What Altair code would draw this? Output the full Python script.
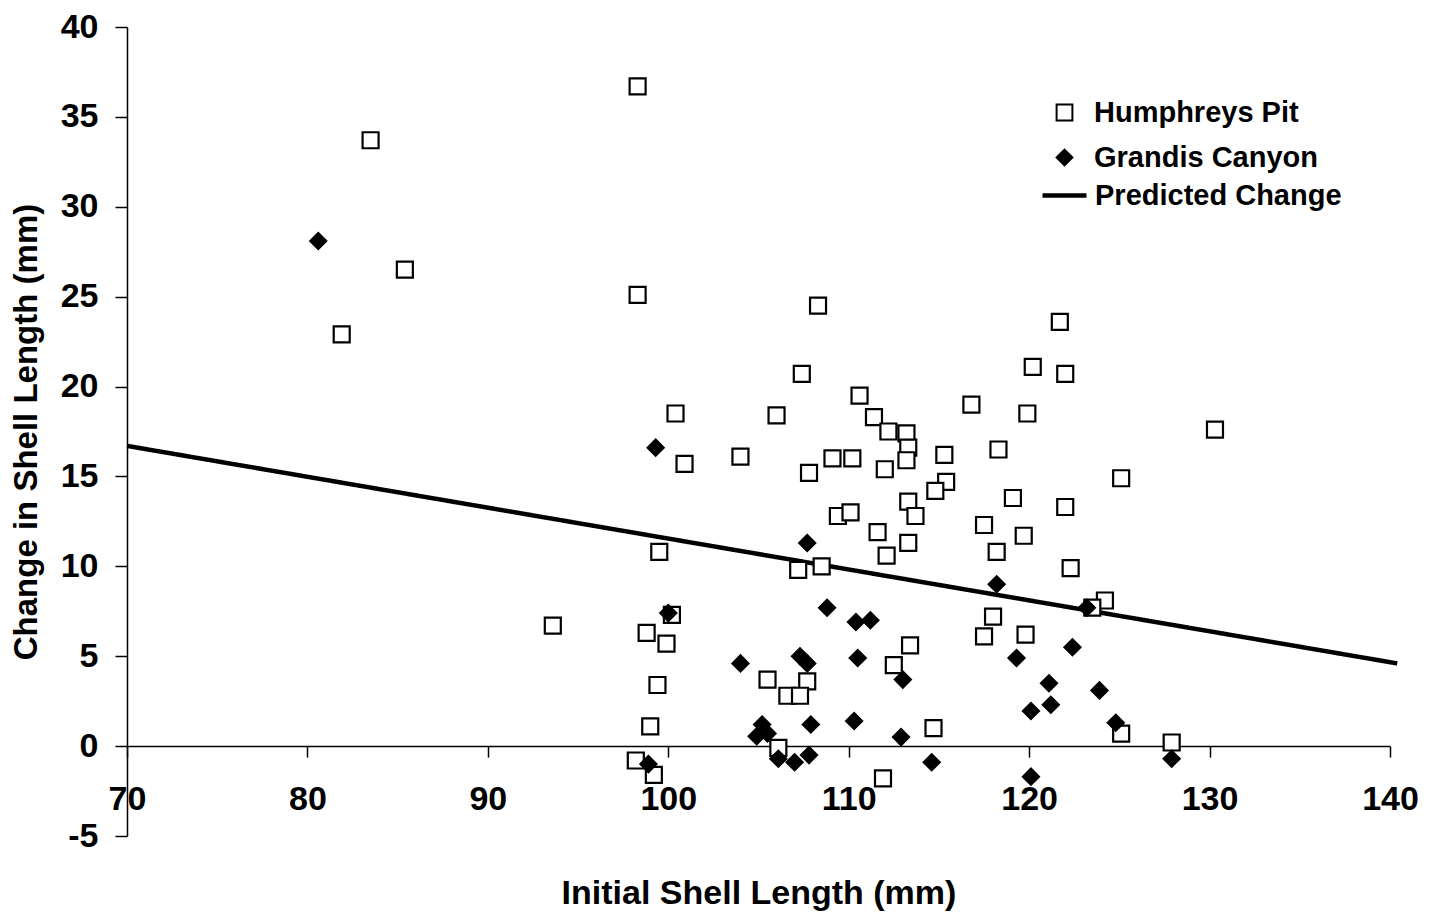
import altair as alt
import pandas as pd

# Humphreys Pit (open squares)
hp_x = [98.3, 83.5, 85.4, 81.9, 98.3, 108.3, 121.7, 120.2, 122.0, 107.4, 110.6, 116.8,
        100.4, 106.0, 111.4, 119.9, 112.2, 113.2, 113.3, 130.3, 118.3, 115.3, 104.0, 109.1,
        110.2, 113.2, 100.9, 107.8, 112.0, 115.4, 114.8, 125.1, 119.1, 113.3, 122.0, 113.7,
        109.4, 110.1, 117.5, 111.6, 113.3, 119.7, 99.5, 112.1, 118.2, 107.2, 108.5, 122.3,
        124.2, 123.5, 118.0, 100.2, 93.6, 98.8, 117.5, 119.8, 99.9, 113.4, 112.5, 105.5,
        107.7, 106.6, 107.3, 99.4, 99.0, 114.7, 125.1, 127.9, 106.1, 98.2, 99.2, 111.9]
hp_y = [36.7, 33.7, 26.5, 22.9, 25.1, 24.5, 23.6, 21.1, 20.7, 20.7, 19.5, 19.0,
        18.5, 18.4, 18.3, 18.5, 17.5, 17.4, 16.6, 17.6, 16.5, 16.2, 16.1, 16.0,
        16.0, 15.9, 15.7, 15.2, 15.4, 14.7, 14.2, 14.9, 13.8, 13.6, 13.3, 12.8,
        12.8, 13.0, 12.3, 11.9, 11.3, 11.7, 10.8, 10.6, 10.8, 9.8, 10.0, 9.9,
        8.1, 7.7, 7.2, 7.3, 6.7, 6.3, 6.1, 6.2, 5.7, 5.6, 4.5, 3.7,
        3.6, 2.8, 2.8, 3.4, 1.1, 1.0, 0.7, 0.2, -0.1, -0.8, -1.6, -1.8]

# Grandis Canyon (filled diamonds)
gc_x = [80.6, 99.3, 107.7, 118.2, 108.8, 100.0, 110.4, 111.2, 123.2, 104.0, 107.3, 107.7,
        110.5, 113.0, 122.4, 119.3, 121.1, 123.9, 120.1, 121.2, 124.8, 127.9, 120.1, 105.2,
        104.9, 105.5, 107.9, 110.3, 112.9, 106.1, 107.0, 107.8, 98.9, 114.6]
gc_y = [28.1, 16.6, 11.3, 9.0, 7.7, 7.4, 6.9, 7.0, 7.7, 4.6, 5.0, 4.6,
        4.9, 3.7, 5.5, 4.9, 3.5, 3.1, 1.95, 2.3, 1.3, -0.7, -1.7, 1.2,
        0.55, 0.7, 1.2, 1.4, 0.5, -0.7, -0.9, -0.5, -1.0, -0.9]

# Predicted change line
line_x = [70.0, 140.4]
line_y = [16.7, 4.6]

point_series = ["Humphreys Pit", "Grandis Canyon"]
line_series = ["Predicted Change"]

pts = pd.DataFrame({
    "x": hp_x + gc_x,
    "y": hp_y + gc_y,
    "series": [point_series[0]] * len(hp_x) + [point_series[1]] * len(gc_x),
})
line_df = pd.DataFrame({"x": line_x, "y": line_y, "series": line_series * len(line_x)})

FONT = "Liberation Sans"
W, H = 1263, 809
LEG_FS = 29

xscale = alt.Scale(domain=[70, 140], nice=False, zero=False)
yscale = alt.Scale(domain=[-5, 40], nice=False, zero=False)

legend_pts = alt.Legend(
    orient="none", legendX=923, legendY=71, title=None,
    labelFont=FONT, labelFontSize=LEG_FS, labelFontWeight="bold", labelColor="black",
    labelOffset=15, labelLimit=500, padding=0, rowPadding=15,
    symbolSize=250, symbolStrokeWidth=2,
)
legend_line = alt.Legend(
    orient="none", legendX=913, legendY=144, title=None,
    labelFont=FONT, labelFontSize=LEG_FS, labelFontWeight="bold", labelColor="black",
    labelOffset=6, labelLimit=500, padding=0,
    symbolType="stroke", symbolSize=1936, symbolStrokeWidth=4.5, symbolStrokeColor="black",
)

xaxis = alt.Axis(
    title="Initial Shell Length (mm)", values=[70, 80, 90, 100, 110, 120, 130, 140],
    offset=-H * 5 / 45, grid=False, domainColor="black", domainWidth=1.5,
    tickColor="black", tickWidth=1.5, tickSize=11, labelPadding=25,
    labelFont=FONT, labelFontSize=34, labelFontWeight="bold", labelColor="black",
    labelExpr="'' + datum.value",
    titleFont=FONT, titleFontSize=34, titleFontWeight="bold", titleColor="black",
    titleBaseline="alphabetic", titleY=157, labelFlush=False,
)
yaxis = alt.Axis(
    title="Change in Shell Length (mm)", values=list(range(-5, 41, 5)),
    grid=False, domainColor="black", domainWidth=1.5,
    tickColor="black", tickWidth=1.5, tickSize=12, labelPadding=17,
    labelFont=FONT, labelFontSize=34, labelFontWeight="bold", labelColor="black",
    labelExpr="'' + datum.value",
    titleFont=FONT, titleFontSize=33, titleFontWeight="bold", titleColor="black",
    titleBaseline="alphabetic", titleX=-91, titleAngle=-90,
)

def sc(rng):
    return alt.Scale(domain=point_series, range=rng)

points = alt.Chart(pts).mark_point(opacity=1, strokeWidth=2.2, size=256).encode(
    x=alt.X("x:Q", scale=xscale, axis=xaxis),
    y=alt.Y("y:Q", scale=yscale, axis=yaxis),
    shape=alt.Shape("series:N", scale=sc(["square", "diamond"]), legend=legend_pts),
    fill=alt.Fill("series:N", scale=sc(["white", "black"]), legend=legend_pts),
    stroke=alt.Stroke("series:N", scale=sc(["black", "black"]), legend=legend_pts),
)

line = alt.Chart(line_df).mark_line(color="black", strokeWidth=4.5).encode(
    x=alt.X("x:Q", scale=xscale),
    y=alt.Y("y:Q", scale=yscale),
    strokeDash=alt.StrokeDash("series:N", scale=alt.Scale(domain=line_series, range=[[1, 0]]), legend=legend_line),
)

chart = alt.layer(line, points).properties(
    width=W, height=H,
    autosize=alt.AutoSizeParams(type="none"),
    padding={"left": 119, "top": 19, "right": 30, "bottom": 77},
    background="white",
).configure_view(stroke=None)

chart.save("out.html", embed_options={"renderer": "svg", "actions": False})
